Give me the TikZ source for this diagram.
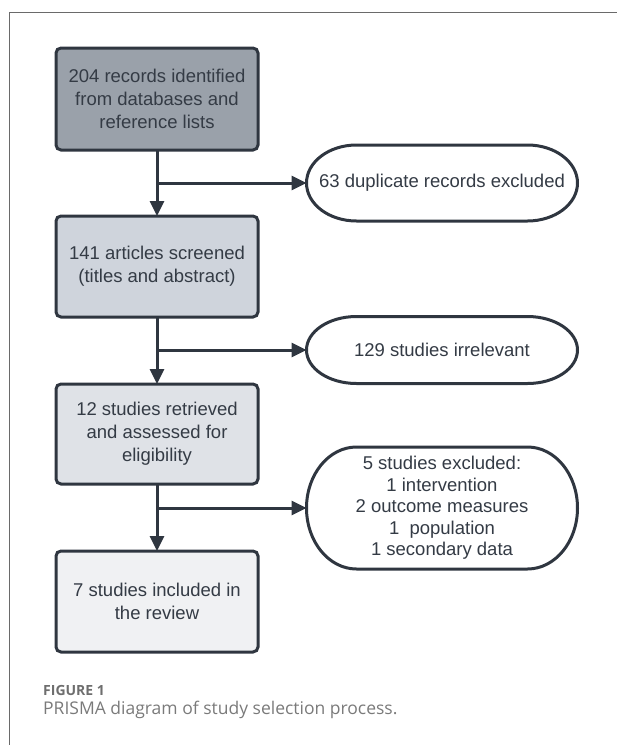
\documentclass[tikz,border=0pt]{standalone}
\usepackage{fontspec}
\setmainfont{Liberation Sans}
\newfontfamily\capfont{Open Sans}
\usetikzlibrary{arrows.meta}
\definecolor{ink}{HTML}{2F3640}
\definecolor{txt}{HTML}{343B45}
\definecolor{fillA}{HTML}{9AA1AA}
\definecolor{fillB}{HTML}{CFD4DC}
\definecolor{fillC}{HTML}{DFE2E7}
\definecolor{fillD}{HTML}{F0F1F3}
\definecolor{capgray}{HTML}{6E6E6E}
\definecolor{captxt}{HTML}{7A7A7A}
\definecolor{framegray}{HTML}{6A6A6A}
\tikzset{
  flowbox/.style={draw=ink, line width=3pt, rounded corners=5pt, minimum width=202pt,
    inner sep=0pt, outer sep=0pt, align=center, text=txt,
    font=\fontsize{18.5}{23}\selectfont},
  outcome/.style={draw=none, inner sep=0pt, outer sep=0pt, minimum width=271pt,
    align=center, text=txt, font=\fontsize{18.5}{21.5}\selectfont},
  outl/.style={draw=ink, line width=3pt, fill=white},
  conn/.style={draw=ink, line width=3pt, -{Triangle[length=15pt,width=14pt]}},
}
\newcommand\stadiumoutline[2]{%
  \draw[outl] ([xshift=50pt]#1.north west) -- ([xshift=-50pt]#1.north east)
    arc[start angle=90,end angle=-90,x radius=50pt,y radius=#2]
    -- ([xshift=50pt]#1.south west)
    arc[start angle=270,end angle=90,x radius=50pt,y radius=#2] -- cycle;}
\begin{document}
\begin{tikzpicture}[x=1pt,y=1pt]
\useasboundingbox (0,0) rectangle (617,-745);
\draw[framegray, line width=1pt] (9,-745) -- (9,-12) -- (617,-12);

\node[flowbox, fill=fillA, minimum height=102pt] (b1) at (157,-99)
  {204 records identified\\from databases and\\reference lists};
\node[flowbox, fill=fillB, minimum height=101pt] (b2) at (157,-266.5)
  {141 articles screened\\(titles and abstract)};
\node[flowbox, fill=fillC, minimum height=100pt] (b3) at (157,-434)
  {12 studies retrieved\\and assessed for\\eligibility};
\node[flowbox, fill=fillD, minimum height=101pt] (b4) at (157,-601.5)
  {7 studies included in\\the review};

\node[outcome, minimum height=76pt] (e1) at (442,-183) {};
\stadiumoutline{e1}{38pt}
\node[outcome] at (e1) {63 duplicate records excluded};
\node[outcome, minimum height=67pt] (e2) at (442,-350) {};
\stadiumoutline{e2}{33.5pt}
\node[outcome] at (e2) {129 studies irrelevant};
\node[outcome, minimum height=122pt] (e3) at (442,-508) {};
\stadiumoutline{e3}{61pt}
\node[outcome] at (e3) {5 studies excluded:\\1 intervention\\2 outcome measures\\1\ \ population\\1 secondary data};

\draw[conn] (b1) -- (b2);
\draw[conn] (b2) -- (b3);
\draw[conn] (b3) -- (b4);
\draw[conn] (b1.south |- e1.west) -- (e1.west);
\draw[conn] (b2.south |- e2.west) -- (e2.west);
\draw[conn] (b3.south |- e3.west) -- (e3.west);

\node[anchor=base west, inner sep=0pt, text=capgray, font=\capfont\bfseries\fontsize{14}{16}\selectfont] (cap1) at (43,-695.5) {FIGURE 1};
\node[anchor=base west, inner sep=0pt, text=captxt, font=\capfont\fontsize{17.5}{20}\selectfont] (cap2) at (43,-714) {PRISMA diagram of study selection process.};
\end{tikzpicture}
\end{document}
